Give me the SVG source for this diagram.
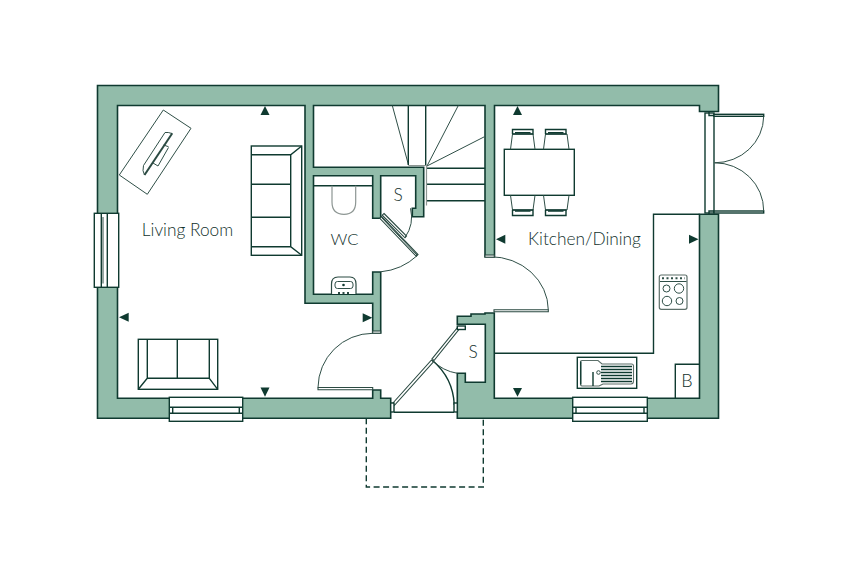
<svg xmlns="http://www.w3.org/2000/svg" width="852" height="562" viewBox="0 0 852 562">
<style>
.w{fill:#92bcaa;stroke:#0f3a30;stroke-width:1.6;stroke-linejoin:miter}
.l{fill:#fff;stroke:#0f3a30;stroke-width:1.4}
.n{fill:none;stroke:#0f3a30;stroke-width:1.4}
.t{fill:none;stroke:#2f4f47;stroke-width:1}
.g{fill:none;stroke:#8d9693;stroke-width:1.2}
.a{fill:#0f3a30;stroke:none}
.leaf{fill:#fff;stroke:#2b4a42;stroke-width:1.1}
text{font-family:"Lato","Liberation Sans",sans-serif;font-weight:300;fill:#12312c;font-size:17.3px;text-anchor:middle}
</style>
<rect width="852" height="562" fill="#fff"/>
<g id="walls">
<path class="w" d="M97.5 85.5H718.5V111.5H699.5V105.5H494.5V256.7H485V105.5H313.5V167.3H423.7V216.7H412.3V208.3H415.7V175.7H380.7V218.3H372.7V175.7H313.5V294.3H372.7V272H380.7V333H372.7V303.3H305V105.5H117.5V398.3H372.7V390H380.7V398.3H390.7V418.3H97.5Z"/>
<path class="w" d="M457.3 418.3V373.3H465.3V382.3H485.3V324.3H457.3V316.3H471V314H485V313H494.3V398.3H699.5V214.3H718.5V418.3Z"/>
</g>
<g id="windows">
<rect class="l" x="94.3" y="213.3" width="24.4" height="74"/>
<path class="n" d="M101.3 213.3V287.3M107.3 213.3V287.3"/><path class="t" d="M103 217V283.5"/>
<rect class="l" x="169.3" y="397.3" width="73.4" height="24"/>
<path class="n" d="M169.3 407.3H242.7M169.3 413.3H242.7M172.7 407.3V413.3M239.3 407.3V413.3"/>
<rect class="l" x="572.7" y="397.3" width="74.6" height="24"/>
<path class="n" d="M572.7 407.3H647.3M572.7 413.3H647.3M576 407.3V413.3M644 407.3V413.3"/>
</g>
<g id="french-doors">
<rect class="l" x="705" y="113" width="9" height="100"/>
<rect class="l" x="714" y="114.3" width="49.7" height="2"/>
<rect class="l" x="714" y="211" width="49.7" height="2"/>
<path class="t" d="M763.7 116.3A49 47 0 0 1 714.5 162.8M763.7 211A49 48 0 0 0 714.5 162.8"/>
<path class="n" d="M709 111.5V115.500H714M709 214V211H714"/>
</g>
<g id="stairs">
<path class="t" d="M392.300 105.500L408.500 165M458.300 105.500L427 166M484.500 136.700L427 166"/>
<path class="n" d="M408.300 105.500V165M425.700 105.500V165M427 168.300H485M427 184.300H485M427 200.700H485"/>
<path class="g" d="M408.300 165.500H426.500V205.500M424 167.500H424.500"/>
</g>
<g id="doors">
<path class="leaf" d="M318 387.500H372.700V389.700H318Z"/>
<path class="t" d="M318 387.500A54.700 54.700 0 0 1 372.700 333.300"/>
<rect class="leaf" x="372.700" y="331" width="8" height="2.200"/>
<path class="leaf" d="M494 309.800H548.300V311.800H494Z"/>
<path class="t" d="M548.300 309.800A58 53.500 0 0 0 490 256.700"/>
<rect class="leaf" x="485" y="255" width="9.300" height="2.200"/>
<path class="leaf" d="M381.500 216.500L418 254.500L416.300 256.300L379.800 218.300Z"/>
<path class="t" d="M381.500 217.500L417 255"/>
<path class="t" d="M417.300 255.500A62 62 0 0 1 380.700 271.800"/>
<path class="leaf" d="M384 213.500L406.500 236L405 237.800L382.200 215.200Z"/>
<path class="t" d="M405 237.500A36 36 0 0 0 410.500 208.300"/>
<path class="leaf" d="M392.500 403.500L431.500 360L433.500 361.800L394.500 405.300Z"/>
<path class="leaf" d="M432 358.800L457.500 327.500L459.300 329L434 360.500Z"/>
<path class="n" d="M432.500 360.500A62 62 0 0 1 454.300 405"/>
<path class="t" d="M432.500 360.500A45 45 0 0 0 457.300 373.300"/>
<rect class="l" x="390.700" y="403" width="3.300" height="9"/>
<rect class="l" x="454" y="403" width="3.300" height="9"/>
<path class="n" d="M394 412.300H454"/>
<rect class="l" x="457.300" y="326" width="8" height="3.500"/>
</g>
<g id="porch">
<path class="n" stroke-dasharray="6 3.500" d="M366.300 418.300V487H483.300V418.300"/>
</g>
<g id="kitchen-units">
<path class="n" d="M494.300 353.300H653.500V214.300H699.500"/>
<g id="hob">
<rect x="659.300" y="275" width="27.700" height="34.300" rx="2" fill="#fff" stroke="#5c6f69" stroke-width="1.200"/>
<path class="t" d="M660 281.500H686.500"/>
<path d="M662 278.200H685" stroke="#2f4f47" stroke-width="2" stroke-dasharray="2 2.500" fill="none"/>
<circle class="t" cx="666.500" cy="288.500" r="3.500"/><circle class="t" cx="679" cy="288.500" r="4.700"/>
<circle class="t" cx="667" cy="301" r="4.700"/><circle class="t" cx="679.500" cy="301" r="3.500"/>
</g>
<g id="sink">
<rect class="l" x="577.300" y="357.300" width="59.400" height="31"/>
<path fill="none" stroke="#5c6f69" stroke-width="1.100" d="M582 360.500H598L602 364H631.500Q633.500 364 633.500 366V381Q633.500 384 631 384H603L599 386H582Q580.500 386 580.500 384V362Q580.500 360.500 582 360.500Z"/>
<path class="n" stroke-width="1.800" d="M580.800 361.500V384.500M593 372V386"/>
<path class="n" d="M601 366.500H632M601 369.500H632M601 372.500H632M601 375.500H632M601 378.500H632M601 381.500H632" stroke-width="1"/>
<circle class="t" cx="598.500" cy="372.500" r="1.800"/>
</g>
<g id="boiler"><path class="n" d="M675.300 398V364.300H699.500"/><text x="687" y="386.500" style="font-size:18px">B</text></g>
</g>
<g id="living-furniture">
<g id="tv">
<path class="t" d="M163.300 110L191 128.300L147.300 194.300L119.300 175Z"/>
<path class="t" d="M172 133.500Q168 132 165 132.500L143.500 165.500Q142 171 144.500 175"/>
<path class="t" d="M168.500 146.700L163.500 145M168.500 147.500L158 166L153 163"/>
<path fill="none" stroke="#2b4a42" stroke-width="2" d="M144.500 175L172.300 133.300"/>
</g>
<g id="sofa-east">
<rect class="l" x="251.300" y="146" width="50.400" height="109.300"/>
<path class="n" d="M251.300 154.700H290.700L301.700 146M251.300 246.700H290.700L301.700 255.300M290.700 154.700V246.700M251.300 184.300H290.700M251.300 217.300H290.700"/>
</g>
<g id="sofa-south">
<rect class="l" x="138.300" y="339.300" width="79.400" height="50"/>
<path class="n" d="M147.300 339.300V378.300L138.300 389.300M209.300 339.300V378.300L217.700 389.300M147.300 378.300H209.300M177.300 339.300V378.300"/>
</g>
</g>
<g id="wc-fittings">
<path class="n" d="M313.500 185.700H372.700"/>
<path class="g" d="M332 185.700V202Q332 214.300 344 214.300Q355.700 214.300 355.700 202V185.700"/>
<g id="basin">
<path fill="#fff" stroke="#2b4a42" stroke-width="1.200" d="M331.500 294V284Q331.500 277 338 277H350Q356 277 356 284V294"/>
<rect class="t" x="335" y="281.500" width="18" height="7" rx="2.500"/>
<circle class="a" cx="343.500" cy="285" r="1.300"/>
<path d="M338 293H350" stroke="#2b4a42" stroke-width="2" stroke-dasharray="2 2.500" fill="none"/>
</g>
</g>
<g id="dining">
<rect class="l" x="504.300" y="149.300" width="70" height="46"/>
<path class="t" stroke="#5c6f69" d="M510.500 149.300L512.500 134H533L535 149.300M543.500 149.300L545.500 134H567L569 149.300M510.500 195.300L512.500 210H533L535 195.300M543.500 195.300L545.500 210H567L569 195.300"/>
<path class="n" d="M512.500 134V129.500H533V134H512.500M545.500 134V129.500H566V134H545.500M512.500 210V215.500H533V210H512.500M545.500 210V215.500H566V210H545.500"/>
<path class="n" stroke-width="1.700" d="M515 132.700H530.500M548 132.700H563.500M515 211H530.500M548 211H563.500"/>
</g>
<g id="view-arrows">
<path class="a" d="M265 106L269.500 115H260.500Z"/>
<path class="a" d="M517.500 106L522 115H513Z"/>
<path class="a" d="M265 396.800L269.500 387.500H260.500Z"/>
<path class="a" d="M517.500 396.800L522 388H513Z"/>
<path class="a" d="M119 317.300L128.700 312.800V321.800Z"/>
<path class="a" d="M496 239.300L505.300 234.800V243.800Z"/>
<path class="a" d="M698.500 239.300L689 234.800V243.800Z"/>
<path class="a" d="M372.300 317.700L362.700 313.200V322.200Z"/>
</g>
<g id="labels">
<text x="187.500" y="236">Living Room</text>
<text x="344.500" y="244.500" style="font-size:16.500px">WC</text>
<text x="398" y="200.500">S</text>
<text x="473" y="358">S</text>
<text x="584.500" y="244.500">Kitchen/Dining</text>
</g>
</svg>
